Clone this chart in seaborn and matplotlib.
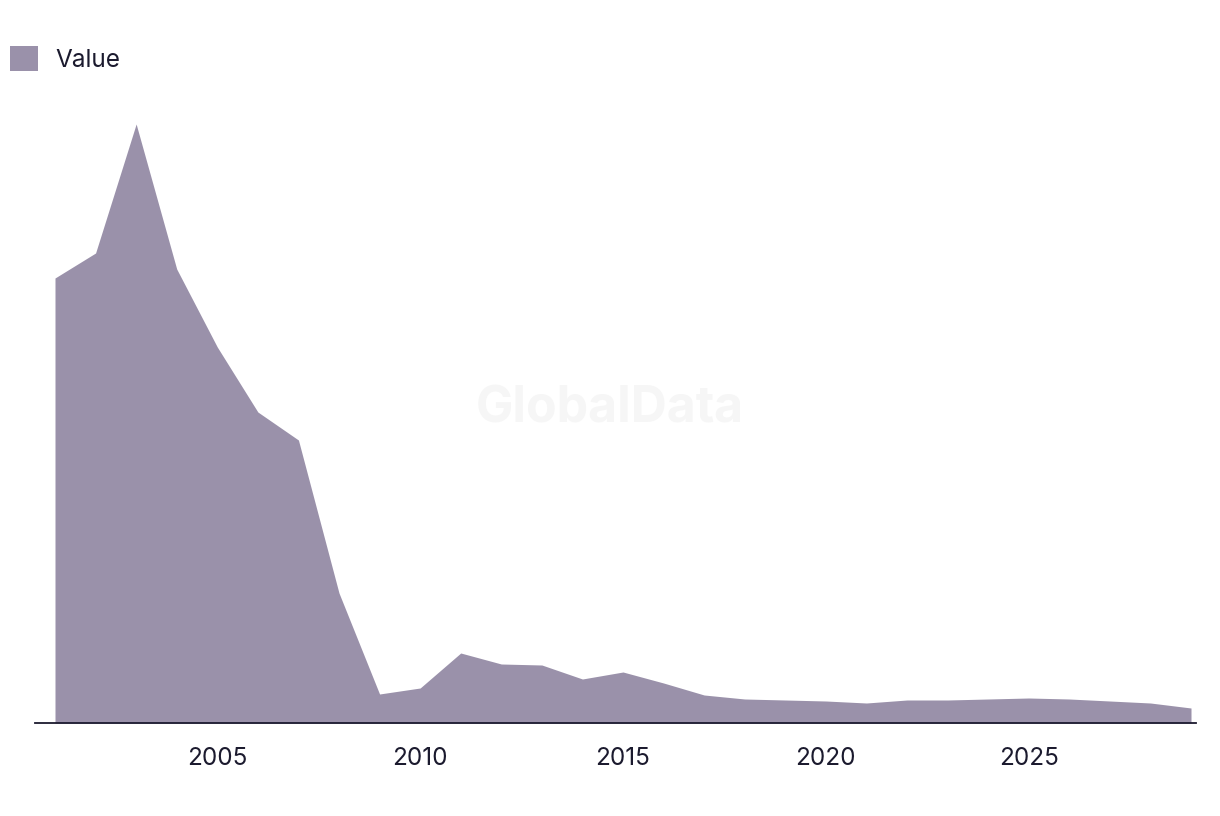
"""
Area chart of a single yearly series, GlobalData style.
"""

import pandas as pd
import matplotlib
matplotlib.use("Agg")
import matplotlib.pyplot as plt
import seaborn as sns

# Data (arbitrary units)
years = list(range(2001, 2030))
values = [445, 470, 599, 454, 376, 311, 283, 130, 29, 35, 70, 59, 58, 44, 51,
          40, 28, 24, 23, 22, 20, 23, 23, 24, 25, 24, 22, 20, 15]
series_name = "Value"
tick_years = [2005, 2010, 2015, 2020, 2025]

AREA_COLOR = "#9a91aa"
TEXT_COLOR = "#1b1a2e"

sns.set_style("white")
plt.rcParams['font.family'] = ['Inter', 'DejaVu Sans']

df = pd.DataFrame({"year": years, "value": values})

fig = plt.figure(figsize=(12.2, 8.16), dpi=100)
ax = fig.add_axes([35 / 1220, 93 / 816, (1196 - 35) / 1220, (723 - 100) / 816])

ax.fill_between(df["year"], 0, df["value"], color=AREA_COLOR, linewidth=0,
                label=series_name)

ax.set_xlim(2001 - 20 / 40.57, 2029 + 5 / 40.57)
ax.set_ylim(0, 623)
ax.set_xticks(tick_years)
ax.set_xticklabels([str(y) for y in tick_years], fontsize=17.5, color=TEXT_COLOR)
ax.tick_params(axis='x', length=0, pad=17)
ax.set_yticks([])
ax.set_xlabel("")
ax.set_ylabel("")

sns.despine(ax=ax, left=True, top=True, right=True)
ax.spines['bottom'].set_color(TEXT_COLOR)
ax.spines['bottom'].set_linewidth(1.3)

# Faint watermark
fig.text(610 / 1220, 1 - 409 / 816, "GlobalData", ha='center', va='center',
         fontsize=36, fontweight='bold', color="#f6f6f6", zorder=0)

leg = fig.legend(loc='upper left', bbox_to_anchor=(10 / 1220, 1 - 46 / 816),
                 frameon=False, fontsize=17.5, handlelength=1.15,
                 handleheight=1.2, handletextpad=0.7, borderpad=0,
                 borderaxespad=0)
for t in leg.get_texts():
    t.set_color(TEXT_COLOR)

fig.savefig("out.png", dpi=100)
